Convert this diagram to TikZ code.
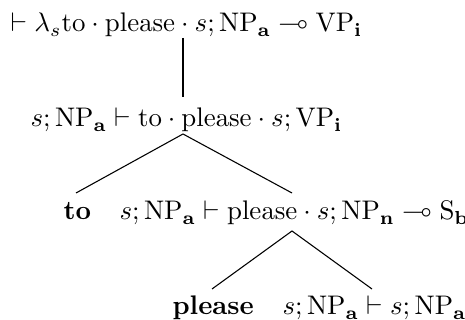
\documentclass[tikz,border=0pt]{standalone}
\usepackage{amssymb}
\begin{document}
\begin{tikzpicture}[x=0.372pt,y=-0.372pt,
  txt/.style={inner sep=0pt, anchor=base west},
  branch/.style={line width=0.4pt}]
\useasboundingbox (0,0) rectangle (465,320);
\node[txt] (r1) at (10,32) {$\vdash \lambda_s\mathrm{to}\cdot\mathrm{please}\cdot s;\mathrm{NP}_{\mathbf{a}}\multimap\mathrm{VP}_{\mathbf{i}}$};
\node[txt] (r2) at (30,127) {$s;\mathrm{NP}_{\mathbf{a}}\vdash\mathrm{to}\cdot\mathrm{please}\cdot s;\mathrm{VP}_{\mathbf{i}}$};
\node[txt] (to) at (63,220) {\textbf{to}};
\node[txt] (r3) at (119,220) {$s;\mathrm{NP}_{\mathbf{a}}\vdash\mathrm{please}\cdot s;\mathrm{NP}_{\mathbf{n}}\multimap\mathrm{S}_{\mathbf{b}}$};
\node[txt] (pl) at (172,315) {\textbf{please}};
\node[txt] (r4) at (282,315) {$s;\mathrm{NP}_{\mathbf{a}}\vdash s;\mathrm{NP}_{\mathbf{a}}$};
\coordinate (a1) at (183,38);
\coordinate (b1) at (183,97);
\coordinate (a2) at (183,134);
\coordinate (b2l) at (76,193);
\coordinate (b2r) at (292,193);
\coordinate (a3) at (292,231);
\coordinate (b3l) at (212,289);
\coordinate (b3r) at (372,289);
\draw[branch] (a1) -- (b1);
\draw[branch] (b2l) -- (a2) -- (b2r);
\draw[branch] (b3l) -- (a3) -- (b3r);
\end{tikzpicture}
\end{document}
